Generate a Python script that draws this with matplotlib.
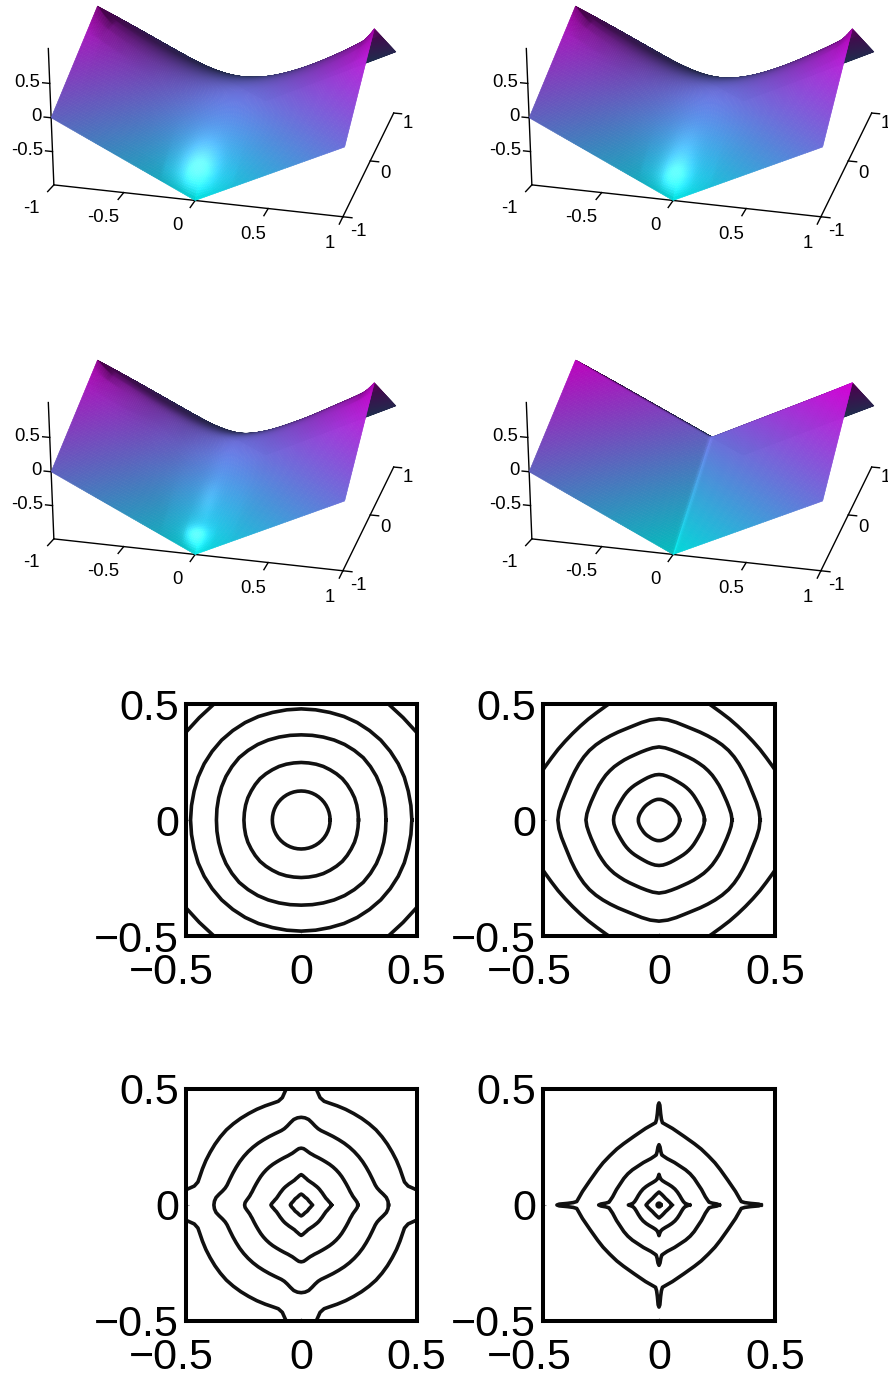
import numpy as np
import matplotlib
matplotlib.use('agg')
import matplotlib.pyplot as plt
from matplotlib.transforms import ScaledTranslation

plt.rcParams['font.family'] = ['Liberation Sans', 'DejaVu Sans']

# surface heights, quarter of the surface only.
# row i holds z at |y|=nodes[i] for the |x| nodes beyond it, z(|y|,|x|) is -z(|x|,|y|)
nodes = [0, 0.1, 0.25, 0.5, 0.75, 0.9, 1.0]
surf_a = [[0.015, 0.08, 0.28, 0.56, 0.74, 1.0], [0.065, 0.27, 0.55, 0.73, 0.9], [0.20, 0.48, 0.65, 0.75],
          [0.24, 0.40, 0.5], [0.15, 0.25], [0.1]]
surf_b = [[0.02, 0.09, 0.31, 0.59, 0.76, 1.0], [0.07, 0.29, 0.57, 0.745, 0.9], [0.21, 0.49, 0.65, 0.75],
          [0.25, 0.40, 0.5], [0.15, 0.25], [0.1]]
surf_c = [[0.03, 0.12, 0.36, 0.64, 0.78, 1.0], [0.09, 0.32, 0.60, 0.77, 0.9], [0.23, 0.50, 0.65, 0.75],
          [0.25, 0.40, 0.5], [0.15, 0.25], [0.1]]
surf_d = [[0.10, 0.25, 0.50, 0.75, 0.90, 1.0], [0.15, 0.40, 0.65, 0.80, 0.9], [0.25, 0.50, 0.65, 0.75],
          [0.25, 0.40, 0.5], [0.15, 0.25], [0.1]]

x_ticks3d = [-1, -0.5, 0, 0.5, 1]
x_labels3d = ['-1', '-0.5', '0', '0.5', '1']
y_ticks3d = [-1, 0, 1]
y_labels3d = ['-1', '0', '1']
z_ticks3d = [-0.5, 0, 0.5]
z_labels3d = ['-0.5', '0', '0.5']

# contours: radius against angle (degrees from the x axis) over one octant
ang_a = [0, 7.5, 15, 22.5, 30, 37.5, 45]
rad_a = [[0.125, 0.125, 0.125, 0.125, 0.125, 0.125, 0.125],
         [0.248, 0.248, 0.249, 0.250, 0.250, 0.251, 0.252],
         [0.367, 0.368, 0.370, 0.373, 0.376, 0.378, 0.380],
         [0.479, 0.479, 0.480, 0.483, 0.485, 0.486, 0.487],
         [0.650, 0.645, 0.640, 0.635, 0.630, 0.626, 0.624]]

ang_b = [0, 5, 10, 15, 20, 25, 30, 35, 40, 45]
rad_b = [[0.089, 0.089, 0.088, 0.087, 0.086, 0.085, 0.084, 0.084, 0.084, 0.084],
         [0.196, 0.195, 0.192, 0.189, 0.186, 0.184, 0.183, 0.183, 0.183, 0.183],
         [0.315, 0.312, 0.307, 0.303, 0.300, 0.299, 0.299, 0.299, 0.300, 0.300],
         [0.436, 0.433, 0.427, 0.421, 0.418, 0.418, 0.419, 0.421, 0.423, 0.424],
         [0.575, 0.570, 0.565, 0.560, 0.552, 0.542, 0.535, 0.531, 0.528, 0.527]]

ang_c = [0, 2.5, 5, 7.5, 10, 12.5, 15, 20, 25, 30, 35, 40, 45]
rad_c = [[0.047, 0.046, 0.045, 0.044, 0.043, 0.042, 0.041, 0.039, 0.038, 0.037, 0.037, 0.037, 0.037],
         [0.131, 0.128, 0.124, 0.120, 0.117, 0.114, 0.111, 0.108, 0.106, 0.105, 0.104, 0.104, 0.104],
         [0.245, 0.243, 0.237, 0.231, 0.226, 0.223, 0.220, 0.217, 0.215, 0.214, 0.214, 0.214, 0.214],
         [0.378, 0.376, 0.370, 0.358, 0.346, 0.337, 0.332, 0.328, 0.326, 0.325, 0.325, 0.325, 0.325],
         [0.560, 0.545, 0.520, 0.503, 0.470, 0.458, 0.456, 0.455, 0.455, 0.455, 0.456, 0.457, 0.458]]

# last panel has spikes on the axes, so each ring gets its own angles
ang_d = [[0, 15, 30, 45],
         [0, 15, 30, 45],
         [0, 1.5, 4, 8, 15, 25, 35, 45],
         [0, 1.0, 2.0, 3.2, 5, 10, 20, 30, 37, 45],
         [0, 0.5, 1.0, 1.6, 2.4, 4, 10, 20, 30, 37, 45]]
rad_d = [[0.008, 0.008, 0.008, 0.008],
         [0.056, 0.047, 0.042, 0.040],
         [0.132, 0.122, 0.112, 0.106, 0.101, 0.098, 0.097, 0.097],
         [0.260, 0.250, 0.230, 0.216, 0.212, 0.203, 0.195, 0.190, 0.190, 0.190],
         [0.440, 0.430, 0.395, 0.370, 0.355, 0.350, 0.335, 0.315, 0.305, 0.302, 0.300]]

ticks2d = [-0.5, 0, 0.5]
labels2d = ['\u22120.5', '0', '0.5']

W, H = 888, 1378
fig = plt.figure(figsize=(W/100., H/100.), dpi=100)
fig.patch.set_facecolor('white')


def soften(a, sigma):
    n = int(3*sigma)
    P = np.pad(a, n, mode='reflect', reflect_type='odd')
    kernel = np.exp(-0.5*(np.arange(-n, n+1)/float(sigma))**2)
    kernel = kernel/kernel.sum()
    P = np.apply_along_axis(lambda v: np.convolve(v, kernel, mode='same'), 0, P)
    P = np.apply_along_axis(lambda v: np.convolve(v, kernel, mode='same'), 1, P)
    return P[n:-n, n:-n]


def surface_height(rows, blur):
    size = len(nodes)
    t = np.zeros((size, size))
    for i, row in enumerate(rows):
        t[i, i+1:] = row
    t = t - t.T
    grid = np.linspace(-1, 1, 161)
    u = np.abs(grid)
    partial = np.array([np.interp(u, nodes, t[i]) for i in range(size)])
    Z = np.array([np.interp(u, nodes, partial[:, j]) for j in range(len(u))]).T
    # no softening on the outer edge, the tip stays sharp
    X, Y = np.meshgrid(u, u)
    w = 1 - np.maximum(X, Y)**6
    return grid, Z + w*(soften(Z, blur) - Z)


def shade(grid, Z, blur):
    dzdy, dzdx = np.gradient(Z, grid, grid)
    norm = np.sqrt(dzdx**2 + dzdy**2 + 1)
    nx, ny, nz = -dzdx/norm, -dzdy/norm, 1/norm
    light = np.array([-0.15, -0.75, 0.6])
    light = light/np.linalg.norm(light)
    half = np.array([0.05, -0.86, 0.51])
    half = half/np.linalg.norm(half)
    diff = np.clip(nx*light[0] + ny*light[1] + nz*light[2], 0, 1)
    spec = np.clip(nx*half[0] + ny*half[1] + nz*half[2], 0, 1)**120
    spec = np.clip(soften(spec, 0.6*blur), 0, 1)*(1 + blur/20.)
    base = plt.cm.cool((Z + 1)/2.)[:, :, :3]
    rgb = base*(0.3 + 0.62*diff)[:, :, None] + spec[:, :, None]*0.95
    return np.clip(rgb, 0, 1)


def surface_panel(rows, blur, dx, dy):
    side = 405
    left = 25 + dx
    bottom = 291 + dy
    ax = fig.add_axes([left/float(W), 1 - bottom/float(H), side/float(W), side/float(H)], projection='3d')
    ax.set_proj_type('persp', focal_length=0.75)
    ax.view_init(elev=20, azim=-75)
    ax.set_box_aspect((141, 137, 69))
    ax.set_xlim(-1, 1, view_margin=0)
    ax.set_ylim(-1, 1, view_margin=0)
    ax.set_zlim(-1, 1, view_margin=0)
    ax.set_axis_off()
    ax.patch.set_visible(False)
    ax.computed_zorder = False

    grid, Z = surface_height(rows, blur)
    X, Y = np.meshgrid(grid, grid)
    ax.plot_surface(X, Y, Z, facecolors=shade(grid, Z, blur), rstride=1, cstride=1, shade=False,
                    linewidth=0.4, antialiased=True, zorder=2)

    ax.plot([-1, 1], [-1, -1], [-1, -1], 'k', lw=1.0, zorder=1)
    ax.plot([1, 1], [-1, 1], [-1, -1], 'k', lw=1.0, zorder=1)
    ax.plot([-1, -1], [-1, -1], [-1, 1], 'k', lw=1.0, zorder=1)
    for t, s in zip(x_ticks3d, x_labels3d):
        ax.plot([t, t], [-1, -1.12], [-1, -1], 'k', lw=1.0, zorder=1)
        ax.text(t, -1.42, -1, s, fontsize=13.3, ha='center', va='center', zorder=3)
    for t, s in zip(y_ticks3d, y_labels3d):
        ax.plot([1, 1.06], [t, t], [-1, -1], 'k', lw=1.0, zorder=1)
        ax.text(1.14, t - 0.2, -1, s, fontsize=13.3, ha='center', va='center', zorder=3)
    for t, s in zip(z_ticks3d, z_labels3d):
        ax.plot([-1, -1.05], [-1, -1], [t, t], 'k', lw=1.0, zorder=1)
        ax.text(-1.07, -1, t, s, fontsize=13.3, ha='right', va='center', zorder=3)


def full_ring(ang, rad):
    a = np.array(ang, dtype=float)
    r = np.array(rad, dtype=float)
    quarter_a = np.r_[a, 90 - a[::-1][1:]]
    quarter_r = np.r_[r, r[::-1][1:]]
    th = np.r_[quarter_a, quarter_a[1:] + 90, quarter_a[1:] + 180, quarter_a[1:] + 270]
    rr = np.r_[quarter_r, quarter_r[1:], quarter_r[1:], quarter_r[1:]]
    return rr*np.cos(np.radians(th)), rr*np.sin(np.radians(th))


def contour_panel(angs, rads, x0, x1, y0, y1):
    ax = fig.add_axes([x0/float(W), 1 - y1/float(H), (x1 - x0)/float(W), (y1 - y0)/float(H)])
    for a, r in zip(angs, rads):
        cx, cy = full_ring(a, r)
        ax.plot(cx, cy, color='#111111', lw=2.6, solid_joinstyle='round')
    ax.set_xlim(-0.5, 0.5)
    ax.set_ylim(-0.5, 0.5)
    ax.set_xticks(ticks2d)
    ax.set_yticks(ticks2d)
    ax.set_xticklabels(labels2d)
    ax.set_yticklabels(labels2d)
    ax.tick_params(axis='both', direction='in', length=2, width=0.8, color='#999999', labelsize=31)
    ax.tick_params(axis='x', pad=12)
    ax.tick_params(axis='y', pad=5)
    for axis in ['top', 'bottom', 'left', 'right']:
        ax.spines[axis].set_linewidth(2.9)
    # the negative x label sits with its digits under the tick
    lab = ax.get_xticklabels()[0]
    lab.set_transform(lab.get_transform() + ScaledTranslation(-0.14, 0, fig.dpi_scale_trans))
    ax.patch.set_visible(False)
    return ax


surface_panel(surf_a, 10, 0, 0)
surface_panel(surf_b, 8, 478, 0)
surface_panel(surf_c, 5, 0, 354)
surface_panel(surf_d, 1, 478, 354)

contour_panel([ang_a]*5, rad_a, 185.7, 416.7, 704, 936)
contour_panel([ang_b]*5, rad_b, 543, 775, 704, 936)
contour_panel([ang_c]*5, rad_c, 185.7, 416.7, 1089, 1321)
contour_panel(ang_d, rad_d, 543, 775, 1089, 1321)

plt.savefig('out.png', dpi=100)
